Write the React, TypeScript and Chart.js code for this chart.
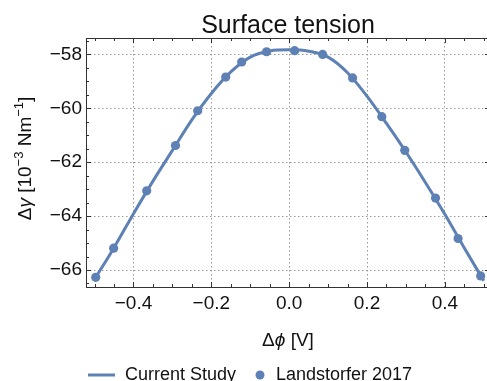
import React, { useEffect, useRef } from "react";
import { Chart, registerables } from "chart.js";

Chart.register(...registerables);

// ---- data ----
const landX = [-0.497, -0.451, -0.366, -0.292, -0.235, -0.163, -0.122, -0.058, 0.014, 0.086, 0.163, 0.238, 0.297, 0.376, 0.434, 0.492];
const landY = [-66.27, -65.19, -63.06, -61.38, -60.09, -58.84, -58.28, -57.9, -57.86, -58.0, -58.87, -60.31, -61.56, -63.33, -64.83, -66.22];

const curveX = [-0.5, -0.45, -0.4, -0.35, -0.3, -0.25, -0.2, -0.15, -0.1, -0.05, 0, 0.05, 0.1, 0.15, 0.2, 0.25, 0.3, 0.35, 0.4, 0.45, 0.5];
const curveY = [-66.34, -65.17, -63.91, -62.7, -61.56, -60.43, -59.45, -58.65, -58.1, -57.87, -57.83, -57.88, -58.1, -58.68, -59.55, -60.56, -61.62, -62.75, -63.93, -65.18, -66.4];

const xTicks = [-0.4, -0.2, 0, 0.2, 0.4];
const yTicks = [-66, -64, -62, -60, -58];
const xMinorStep = 0.05;
const yMinorStep = 0.5;

const titleText = "Surface tension";
const seriesCurve = "Current Study";
const seriesPoints = "Landstorfer 2017";

const BLUE = "#5e81b5";
const FAMILY = "'Liberation Sans', Arial, sans-serif";
const FRAME = "#333333";
const GRID = "#9a9a9a";

const fmt = (v: number, d: number) => (v < 0 ? "\u2212" : "") + Math.abs(v).toFixed(d);

type Run = { t: string; font: string; dy?: number };
function drawRuns(ctx: CanvasRenderingContext2D, runs: Run[], x: number, y: number) {
  const widths = runs.map((r) => {
    ctx.font = r.font;
    return ctx.measureText(r.t).width;
  });
  const total = widths.reduce((a, b) => a + b, 0);
  let cx = x - total / 2;
  ctx.textAlign = "left";
  ctx.textBaseline = "alphabetic";
  runs.forEach((r, i) => {
    ctx.font = r.font;
    ctx.fillText(r.t, cx, y + (r.dy || 0));
    cx += widths[i];
  });
}

const framePlugin = {
  id: "framePlugin",
  beforeDatasetsDraw(chart: any) {
    const { ctx, chartArea } = chart;
    const xs = chart.scales.x;
    const ys = chart.scales.y;
    const { left, right, top, bottom } = chartArea;
    ctx.save();
    ctx.strokeStyle = FRAME;
    ctx.lineWidth = 1;
    ctx.beginPath();
    ctx.moveTo(Math.round(left) + 0.5, top);
    ctx.lineTo(Math.round(left) + 0.5, bottom);
    ctx.moveTo(left, Math.round(bottom) + 0.5);
    ctx.lineTo(right, Math.round(bottom) + 0.5);
    ctx.moveTo(left, Math.round(top) + 0.5);
    ctx.lineTo(right, Math.round(top) + 0.5);
    ctx.moveTo(Math.round(right) + 0.5, top);
    ctx.lineTo(Math.round(right) + 0.5, bottom);
    ctx.stroke();

    const isMajor = (v: number, arr: number[]) => arr.some((a) => Math.abs(a - v) < 1e-6);
    ctx.beginPath();
    for (let k = Math.ceil(xs.min / xMinorStep); k * xMinorStep <= xs.max + 1e-9; k++) {
      const v = k * xMinorStep;
      const len = isMajor(v, xTicks) ? 5 : 3;
      const px = Math.round(xs.getPixelForValue(v)) + 0.5;
      ctx.moveTo(px, bottom);
      ctx.lineTo(px, bottom - len);
      ctx.moveTo(px, top);
      ctx.lineTo(px, top + len);
    }
    for (let k = Math.ceil(ys.min / yMinorStep); k * yMinorStep <= ys.max + 1e-9; k++) {
      const v = k * yMinorStep;
      const len = isMajor(v, yTicks) ? 5 : 3;
      const py = Math.round(ys.getPixelForValue(v)) + 0.5;
      ctx.moveTo(left, py);
      ctx.lineTo(left + len, py);
      ctx.moveTo(right, py);
      ctx.lineTo(right - len, py);
    }
    ctx.stroke();
    ctx.restore();
  },
  afterDraw(chart: any) {
    const { ctx, chartArea } = chart;
    ctx.save();
    ctx.fillStyle = "#111";
    // title
    ctx.font = `25px ${FAMILY}`;
    ctx.textAlign = "center";
    ctx.textBaseline = "alphabetic";
    ctx.fillText(titleText, 288, 33);

    // x title
    drawRuns(
      ctx,
      [
        { t: "\u0394", font: `19px ${FAMILY}` },
        { t: "\u03d5", font: `italic 19px ${FAMILY}` },
        { t: " [V]", font: `19px ${FAMILY}` },
      ],
      288,
      345.5
    );

    // y title
    ctx.save();
    ctx.translate(31, (chartArea.top + chartArea.bottom) / 2 - 4);
    ctx.rotate(-Math.PI / 2);
    drawRuns(
      ctx,
      [
        { t: "\u0394", font: `19px ${FAMILY}` },
        { t: "\u03b3", font: `italic 19px ${FAMILY}` },
        { t: " [10", font: `19px ${FAMILY}` },
        { t: "\u22123", font: `13px ${FAMILY}`, dy: -8 },
        { t: " Nm", font: `19px ${FAMILY}` },
        { t: "\u22121", font: `13px ${FAMILY}`, dy: -8 },
        { t: "]", font: `19px ${FAMILY}` },
      ],
      0,
      0
    );
    ctx.restore();

    // legend
    ctx.strokeStyle = BLUE;
    ctx.lineWidth = 3;
    ctx.beginPath();
    ctx.moveTo(88, 375);
    ctx.lineTo(115, 375);
    ctx.stroke();
    ctx.fillStyle = BLUE;
    ctx.beginPath();
    ctx.arc(260, 375, 4.5, 0, Math.PI * 2);
    ctx.fill();
    ctx.fillStyle = "#111";
    ctx.font = `18px ${FAMILY}`;
    ctx.textAlign = "left";
    ctx.textBaseline = "alphabetic";
    ctx.fillText(seriesCurve, 125, 380);
    ctx.fillText(seriesPoints, 276, 380);
    ctx.restore();
  },
};

export default function App() {
  const ref = useRef<HTMLCanvasElement | null>(null);
  useEffect(() => {
    if (!ref.current) return;
    const chart = new Chart(ref.current, {
      type: "scatter",
      data: {
        datasets: [
          {
            label: seriesPoints,
            data: landX.map((x, i) => ({ x, y: landY[i] })),
            backgroundColor: BLUE,
            borderWidth: 0,
            pointRadius: 4.6,
            showLine: false,
            order: 0,
            clip: false as any,
          },
          {
            label: seriesCurve,
            data: curveX.map((x, i) => ({ x, y: curveY[i] })),
            borderColor: BLUE,
            borderWidth: 3,
            pointRadius: 0,
            showLine: true,
            cubicInterpolationMode: "monotone",
            order: 1,
            clip: false as any,
          },
        ],
      },
      options: {
        animation: false,
        responsive: false,
        devicePixelRatio: 1,
        layout: { padding: { top: 38, right: 10, left: 0, bottom: 0 } },
        plugins: { legend: { display: false }, title: { display: false }, tooltip: { enabled: false } },
        scales: {
          x: {
            type: "linear",
            min: -0.522,
            max: 0.516,
            afterBuildTicks: (s: any) => {
              s.ticks = xTicks.map((v) => ({ value: v }));
            },
            afterFit: (s: any) => {
              s.height = 94;
            },
            ticks: {
              padding: 5,
              maxRotation: 0,
              autoSkip: false,
              color: "#111",
              font: { family: FAMILY, size: 19 },
              callback: (v: any) => fmt(Number(v), 1),
            },
            grid: { color: GRID, lineWidth: 1, drawTicks: false },
            border: { display: false, dash: [1.5, 2.5] },
          },
          y: {
            type: "linear",
            min: -66.63,
            max: -57.39,
            afterBuildTicks: (s: any) => {
              s.ticks = yTicks.map((v) => ({ value: v }));
            },
            afterFit: (s: any) => {
              s.width = 86;
            },
            ticks: {
              padding: 4,
              autoSkip: false,
              color: "#111",
              font: { family: FAMILY, size: 19 },
              callback: (v: any) => fmt(Number(v), 0),
            },
            grid: { color: GRID, lineWidth: 1, drawTicks: false },
            border: { display: false, dash: [1.5, 2.5] },
          },
        },
      },
      plugins: [framePlugin],
    });
    return () => chart.destroy();
  }, []);
  return (
    <div style={{ position: "fixed", left: 0, top: 0, width: 487, height: 381, overflow: "hidden", background: "#fff" }}>
      <canvas ref={ref} width={500} height={381} style={{ display: "block" }} />
    </div>
  );
}
